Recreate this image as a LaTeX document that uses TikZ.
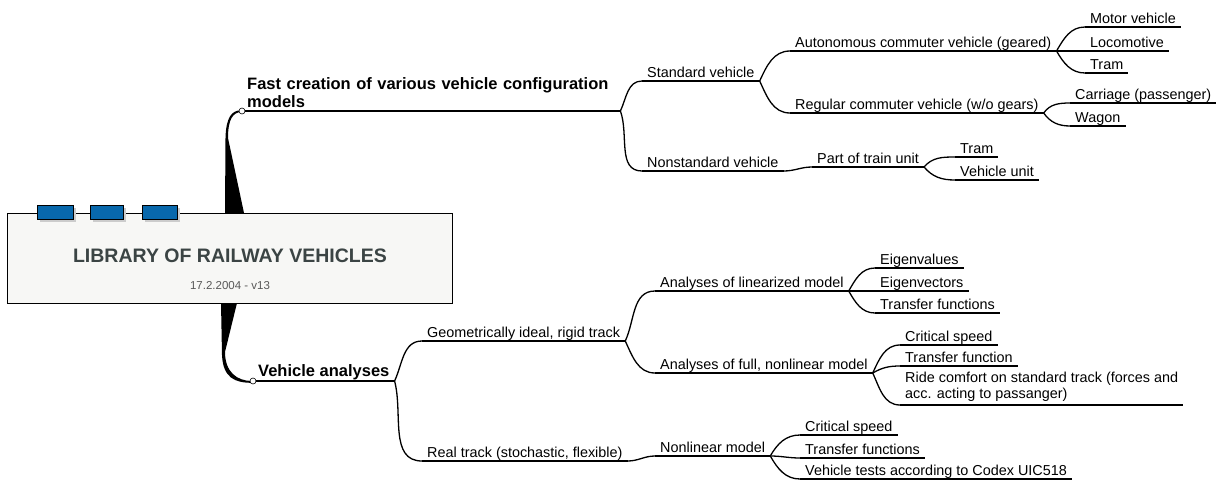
\documentclass[tikz,border=0pt]{standalone}
\usepackage{fontspec}
\setmainfont{Liberation Sans}
\definecolor{boxfill}{HTML}{F7F7F5}
\definecolor{titlegray}{HTML}{3B4444}
\definecolor{tabblue}{HTML}{0868AC}
\tikzset{
  topic/.style={anchor=south west, inner xsep=5pt, inner ysep=0pt, text height=10pt, text depth=3.5pt,
    font=\fontsize{14.4}{16}\selectfont},
  longtopic/.style={anchor=south west, inner xsep=5pt, inner ysep=3pt, align=left,
    font=\fontsize{14.4}{16}\selectfont},
  maintopic/.style={anchor=south west, inner xsep=5pt, inner ysep=3pt, align=left,
    font=\fontsize{16.5}{18}\selectfont\bfseries},
  underline/.style={line width=1.3pt},
  mainline/.style={line width=2.2pt},
  tab/.style={fill=tabblue, draw=black, line width=0.8pt},
}
\begin{document}
\begin{tikzpicture}[x=1pt, y=-1pt]
\useasboundingbox (0,0) rectangle (1221,480);
% tapered links out of the central topic
\fill (225,213) -- (225.5,138) .. controls (226,117) and (232,110.3) .. (241,110.3) -- (241,112)
  .. controls (233,112.5) and (228,119) .. (228,138) -- (244,213) -- cycle;
\fill (221,303) -- (222,355) .. controls (223,378) and (235,382.8) .. (252,382.8) -- (252,381)
  .. controls (237,381) and (225,372) .. (225,352) -- (237,303) -- cycle;
% central topic
\node[draw=black, fill=boxfill, line width=0.8pt, minimum width=445pt, minimum height=90pt,
  anchor=north west, inner sep=0pt] (root) at (7,213) {};
\node[font=\fontsize{19.5}{22}\selectfont\bfseries, text=titlegray] (title) at (230,256) {LIBRARY OF RAILWAY VEHICLES};
\node[font=\fontsize{11.5}{13}\selectfont, text=black!65] (date) at (230,286) {17.2.2004 - v13};
\foreach \a/\b in {37/73, 90/123, 142/177} {
  \fill[black!20] (\a+3,208) rectangle (\b+3,222);
  \draw[tab] (\a,205) rectangle (\b,219);
}
% main topics
\node[maintopic, text width=368pt] (fast) at (242,111) {Fast creation of various vehicle configuration\\models};
\node[maintopic, inner ysep=0.5pt] (ana) at (253,381) {Vehicle analyses};
% vehicle configurations
\node[topic] (std) at (642,81) {Standard vehicle};
\node[topic] (auto) at (790,51) {Autonomous commuter vehicle (geared)};
\node[topic] (motor) at (1085,27) {Motor vehicle};
\node[topic] (loco) at (1085,51) {Locomotive};
\node[topic] (tramA) at (1085,73) {Tram};
\node[topic] (reg) at (790,113) {Regular commuter vehicle (w/o gears)};
\node[topic] (carr) at (1070,103) {Carriage (passenger)};
\node[topic] (wagon) at (1070,126) {Wagon};
\node[topic] (nonstd) at (642,171) {Nonstandard vehicle};
\node[topic] (part) at (812,167) {Part of train unit};
\node[topic] (tramB) at (955,157) {Tram};
\node[topic] (vunit) at (955,180) {Vehicle unit};
% analyses
\node[topic] (geo) at (422,341) {Geometrically ideal, rigid track};
\node[topic] (lin) at (655,291) {Analyses of linearized model};
\node[topic] (eval) at (875,268) {Eigenvalues};
\node[topic] (evec) at (875,291) {Eigenvectors};
\node[topic] (tfA) at (875,313) {Transfer functions};
\node[topic] (full) at (655,373) {Analyses of full, nonlinear model};
\node[topic] (csA) at (900,345) {Critical speed};
\node[topic] (tfB) at (900,366) {Transfer function};
\node[longtopic] (ride) at (900,405) {Ride comfort on standard track (forces and\\acc. acting to passanger)};
\node[topic] (real) at (422,461) {Real track (stochastic, flexible)};
\node[topic] (nonlin) at (655,456) {Nonlinear model};
\node[topic] (csB) at (800,435) {Critical speed};
\node[topic] (tfC) at (800,458) {Transfer functions};
\node[topic] (test) at (800,479) {Vehicle tests according to Codex UIC518};
% underlines
\foreach \n in {fast, ana}
  \draw[mainline] (\n.south west) -- (\n.south east);
\foreach \n in {std, auto, motor, loco, tramA, reg, carr, wagon, nonstd, part, tramB, vunit,
    geo, lin, eval, evec, tfA, full, csA, tfB, ride, real, nonlin, csB, tfC, test}
  \draw[underline] (\n.south west) -- (\n.south east);
% branches
\foreach \p/\c/\a in {fast/std/65, fast/nonstd/-70, std/auto/65, std/reg/-65,
    auto/motor/60, auto/loco/0, auto/tramA/-60, reg/carr/55, reg/wagon/-55,
    nonstd/part/0, part/tramB/50, part/vunit/-50,
    ana/geo/65, ana/real/-75, geo/lin/65, geo/full/-65,
    lin/eval/60, lin/evec/0, lin/tfA/-60, full/csA/65, full/tfB/30, full/ride/-65,
    real/nonlin/0, nonlin/csB/60, nonlin/tfC/0, nonlin/test/-60}
  \draw[underline] (\p.south east) to[out=\a, in=180] (\c.south west);
\foreach \n in {fast, ana}
  \draw[fill=white, line width=0.6pt] (\n.south west) circle (3);
\end{tikzpicture}
\end{document}
